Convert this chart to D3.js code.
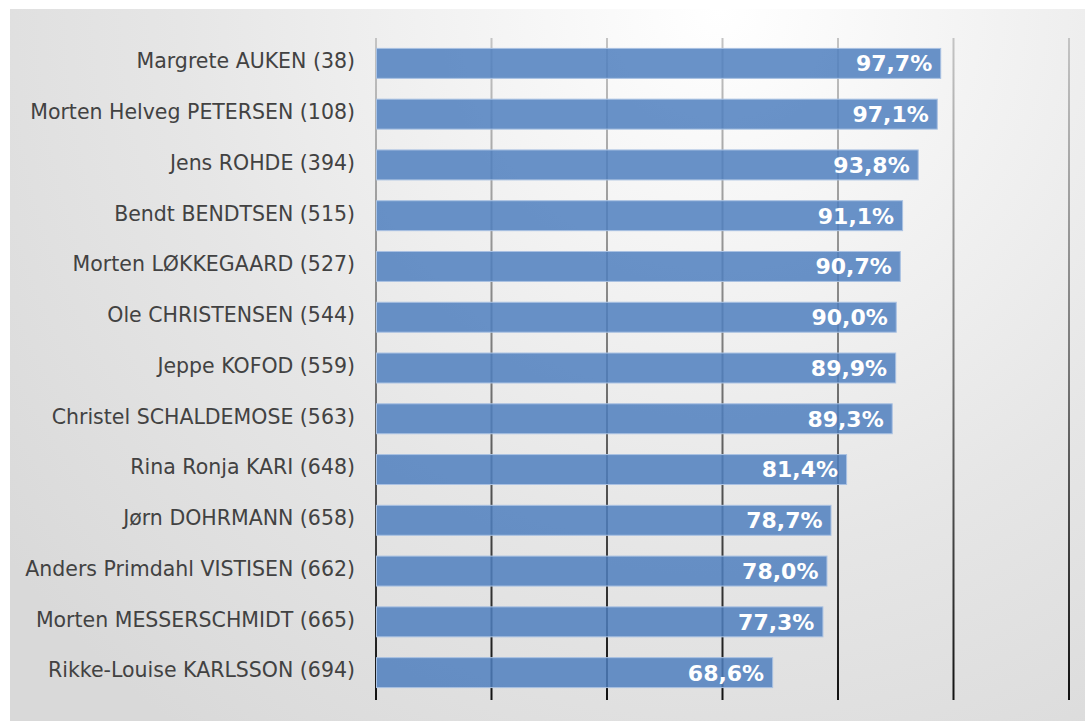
<!DOCTYPE html>
<html>
<head>
<meta charset="utf-8">
<script src="https://cdn.jsdelivr.net/npm/d3@7"></script>
<style>
  html, body { margin: 0; padding: 0; background: #fff; }
  svg { display: block; }
</style>
</head>
<body>
<script>
// chart data
const names = [
  "Margrete AUKEN (38)",
  "Morten Helveg PETERSEN (108)",
  "Jens ROHDE (394)",
  "Bendt BENDTSEN (515)",
  "Morten LØKKEGAARD (527)",
  "Ole CHRISTENSEN (544)",
  "Jeppe KOFOD (559)",
  "Christel SCHALDEMOSE (563)",
  "Rina Ronja KARI (648)",
  "Jørn DOHRMANN (658)",
  "Anders Primdahl VISTISEN (662)",
  "Morten MESSERSCHMIDT (665)",
  "Rikke-Louise KARLSSON (694)"
];
const values = [97.7, 97.1, 93.8, 91.1, 90.7, 90.0, 89.9, 89.3, 81.4, 78.7, 78.0, 77.3, 68.6];
const ticks = [0, 20, 40, 60, 80, 100, 120];

const width = 1085, height = 721;

const svg = d3.select("body").append("svg")
  .attr("width", width)
  .attr("height", height);

const defs = svg.append("defs");

// background gradient
const bg = defs.append("radialGradient")
  .attr("id", "bg")
  .attr("gradientUnits", "userSpaceOnUse")
  .attr("cx", 720).attr("cy", 10).attr("r", 900);
bg.append("stop").attr("offset", "0%").attr("stop-color", "#ffffff");
bg.append("stop").attr("offset", "60%").attr("stop-color", "#e6e6e6");
bg.append("stop").attr("offset", "100%").attr("stop-color", "#d9d9d9");

// gridlines get darker toward the bottom
const gg = defs.append("linearGradient")
  .attr("id", "grid")
  .attr("gradientUnits", "userSpaceOnUse")
  .attr("x1", 0).attr("y1", 38).attr("x2", 0).attr("y2", 700);
gg.append("stop").attr("offset", "0%").attr("stop-color", "#c4c4c4");
gg.append("stop").attr("offset", "50%").attr("stop-color", "#777");
gg.append("stop").attr("offset", "100%").attr("stop-color", "#111");

svg.append("rect")
  .attr("x", 10).attr("y", 9)
  .attr("width", width - 10).attr("height", height - 9)
  .attr("fill", "url(#bg)");

const x = d3.scaleLinear().domain([0, 120]).range([376, 1069]);
const y = d3.scaleBand().domain(names).range([38, 698]).paddingInner(0.41).paddingOuter(0.205);

// gridlines
svg.append("g")
  .selectAll("line")
  .data(ticks)
  .enter().append("line")
  .attr("x1", d => x(d)).attr("x2", d => x(d))
  .attr("y1", 38).attr("y2", 700)
  .style("stroke", "url(#grid)")
  .style("stroke-width", 2);

// bars
svg.append("g")
  .selectAll("rect")
  .data(values)
  .enter().append("rect")
  .attr("x", x(0) + 0.5)
  .attr("y", (d, i) => y(names[i]))
  .attr("width", d => x(d) - x(0))
  .attr("height", y.bandwidth())
  .style("fill", "#4f7fbe")
  .style("fill-opacity", 0.85)
  .style("stroke", "#a9c1e2")
  .style("stroke-width", 1);

// category labels
svg.append("g")
  .selectAll("text")
  .data(names)
  .enter().append("text")
  .attr("x", 355)
  .attr("y", d => y(d) + y.bandwidth() / 2 - 2.5)
  .attr("dy", "0.36em")
  .attr("text-anchor", "end")
  .style("font-family", "'DejaVu Sans', sans-serif")
  .style("font-size", "20.5px")
  .style("fill", "#424242")
  .text(d => d);

// value labels
svg.append("g")
  .selectAll("text")
  .data(values)
  .enter().append("text")
  .attr("x", d => x(d) - 8)
  .attr("y", (d, i) => y(names[i]) + y.bandwidth() / 2)
  .attr("dy", "0.36em")
  .attr("text-anchor", "end")
  .style("font-family", "'DejaVu Sans', sans-serif")
  .style("font-weight", "bold")
  .style("font-size", "22px")
  .style("fill", "#fff")
  .text(d => d.toFixed(1).replace(".", ",") + "%");
</script>
</body>
</html>
